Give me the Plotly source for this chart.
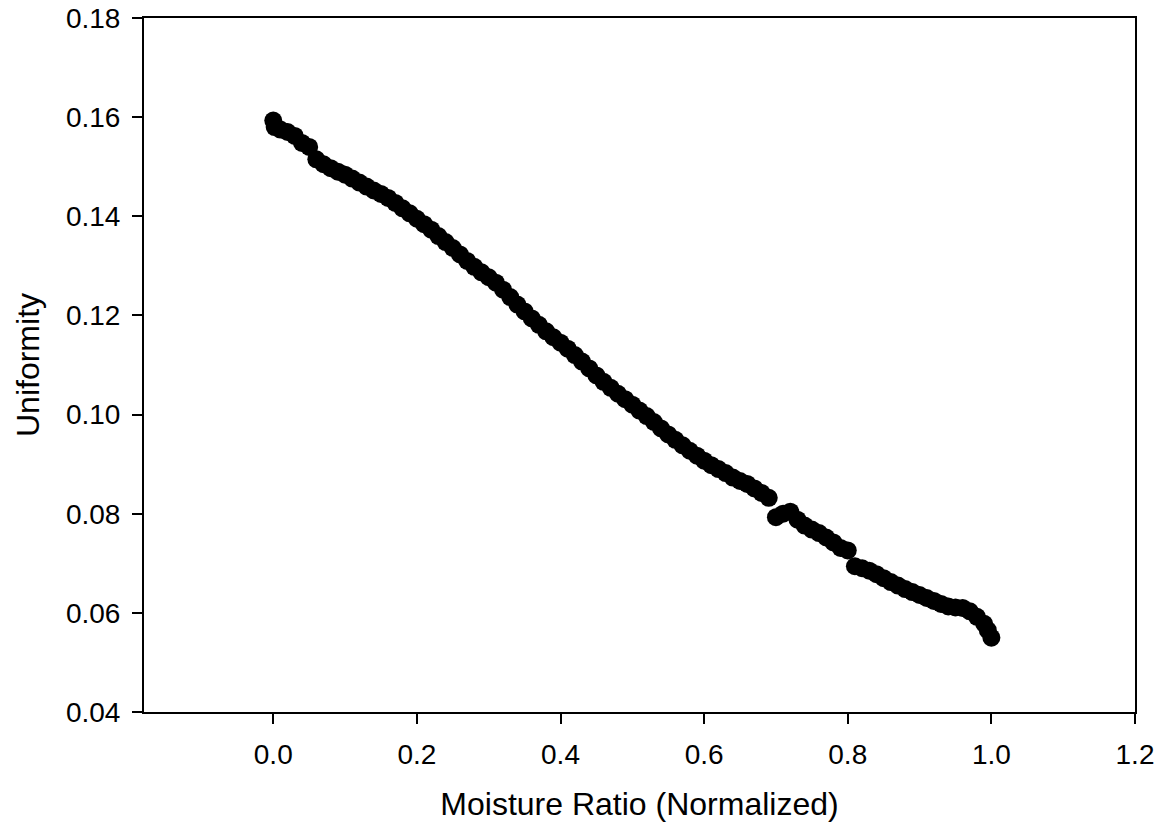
import plotly.graph_objects as go

moisture_ratio = [
    0.000, 0.002, 0.01, 0.02, 0.03, 0.04, 0.05, 0.06, 0.07, 0.08, 0.09,
    0.10, 0.11, 0.12, 0.13, 0.14, 0.15, 0.16, 0.17, 0.18, 0.19,
    0.20, 0.21, 0.22, 0.23, 0.24, 0.25, 0.26, 0.27, 0.28, 0.29,
    0.30, 0.31, 0.32, 0.33, 0.34, 0.35, 0.36, 0.37, 0.38, 0.39,
    0.40, 0.41, 0.42, 0.43, 0.44, 0.45, 0.46, 0.47, 0.48, 0.49,
    0.50, 0.51, 0.52, 0.53, 0.54, 0.55, 0.56, 0.57, 0.58, 0.59,
    0.60, 0.61, 0.62, 0.63, 0.64, 0.65, 0.66, 0.67, 0.68, 0.69,
    0.70, 0.71, 0.72, 0.73, 0.74, 0.75, 0.76, 0.77, 0.78, 0.79,
    0.80, 0.81, 0.82, 0.83, 0.84, 0.85, 0.86, 0.87, 0.88, 0.89,
    0.90, 0.91, 0.92, 0.93, 0.94, 0.95, 0.96, 0.97, 0.98, 0.99,
    0.995, 1.00,
]

uniformity = [
    0.1593, 0.1580, 0.1575, 0.1570, 0.1562, 0.1548, 0.1540, 0.1515, 0.1505, 0.1497, 0.1490,
    0.1484, 0.1476, 0.1468, 0.1460, 0.1452, 0.1445, 0.1437, 0.1427, 0.1416, 0.1406,
    0.1395, 0.1384, 0.1373, 0.1360, 0.1348, 0.1336, 0.1323, 0.1310, 0.1298, 0.1287,
    0.1277, 0.1266, 0.1252, 0.1237, 0.1222, 0.1208, 0.1194, 0.1181, 0.1168, 0.1156,
    0.1145, 0.1133, 0.1120, 0.1107, 0.1093, 0.1079, 0.1066, 0.1054, 0.1042, 0.1031,
    0.1020, 0.1008, 0.0997, 0.0985, 0.0972, 0.0960, 0.0949, 0.0938, 0.0927, 0.0917,
    0.0907, 0.0898, 0.0890, 0.0882, 0.0873, 0.0866, 0.0860, 0.0851, 0.0842, 0.0832,
    0.0793, 0.0800, 0.0804, 0.0788, 0.0776, 0.0768, 0.0761, 0.0752, 0.0742, 0.0731,
    0.0726, 0.0694, 0.0690, 0.0685, 0.0678, 0.0670, 0.0662, 0.0655, 0.0648, 0.0642,
    0.0636, 0.0630, 0.0624, 0.0618, 0.0613, 0.0611, 0.0610, 0.0603, 0.0592, 0.0578,
    0.0565, 0.0550,
]

x_ticks = [0.0, 0.2, 0.4, 0.6, 0.8, 1.0, 1.2]
x_tick_labels = ["0.0", "0.2", "0.4", "0.6", "0.8", "1.0", "1.2"]
y_ticks = [0.04, 0.06, 0.08, 0.10, 0.12, 0.14, 0.16, 0.18]
y_tick_labels = ["0.04", "0.06", "0.08", "0.10", "0.12", "0.14", "0.16", "0.18"]

font_family = "Liberation Sans, Arial, Helvetica, sans-serif"

fig = go.Figure()
fig.add_trace(go.Scatter(
    x=moisture_ratio,
    y=uniformity,
    mode="markers",
    marker=dict(color="black", size=18, line=dict(width=0)),
    showlegend=False,
))

axis_common = dict(
    showline=True,
    linecolor="black",
    linewidth=2,
    mirror=True,
    ticks="outside",
    ticklen=10,
    tickwidth=2,
    tickcolor="black",
    showgrid=False,
    zeroline=False,
    automargin=False,
    tickfont=dict(family=font_family, size=28, color="black"),
)

fig.update_xaxes(
    range=[-0.18, 1.2],
    tickvals=x_ticks,
    ticktext=x_tick_labels,
    ticklabelstandoff=6,
    title=dict(text="Moisture Ratio (Normalized)",
               font=dict(family=font_family, size=32, color="black"),
               standoff=24),
    **axis_common,
)
fig.update_yaxes(
    range=[0.04, 0.18],
    tickvals=y_ticks,
    ticktext=y_tick_labels,
    ticklabelstandoff=6,
    title=dict(text="Uniformity",
               font=dict(family=font_family, size=32, color="black"),
               standoff=17),
    **axis_common,
)

fig.update_layout(
    width=1166,
    height=828,
    margin=dict(l=144, r=31, t=18, b=116),
    paper_bgcolor="white",
    plot_bgcolor="white",
)

fig.write_html("out.html")
